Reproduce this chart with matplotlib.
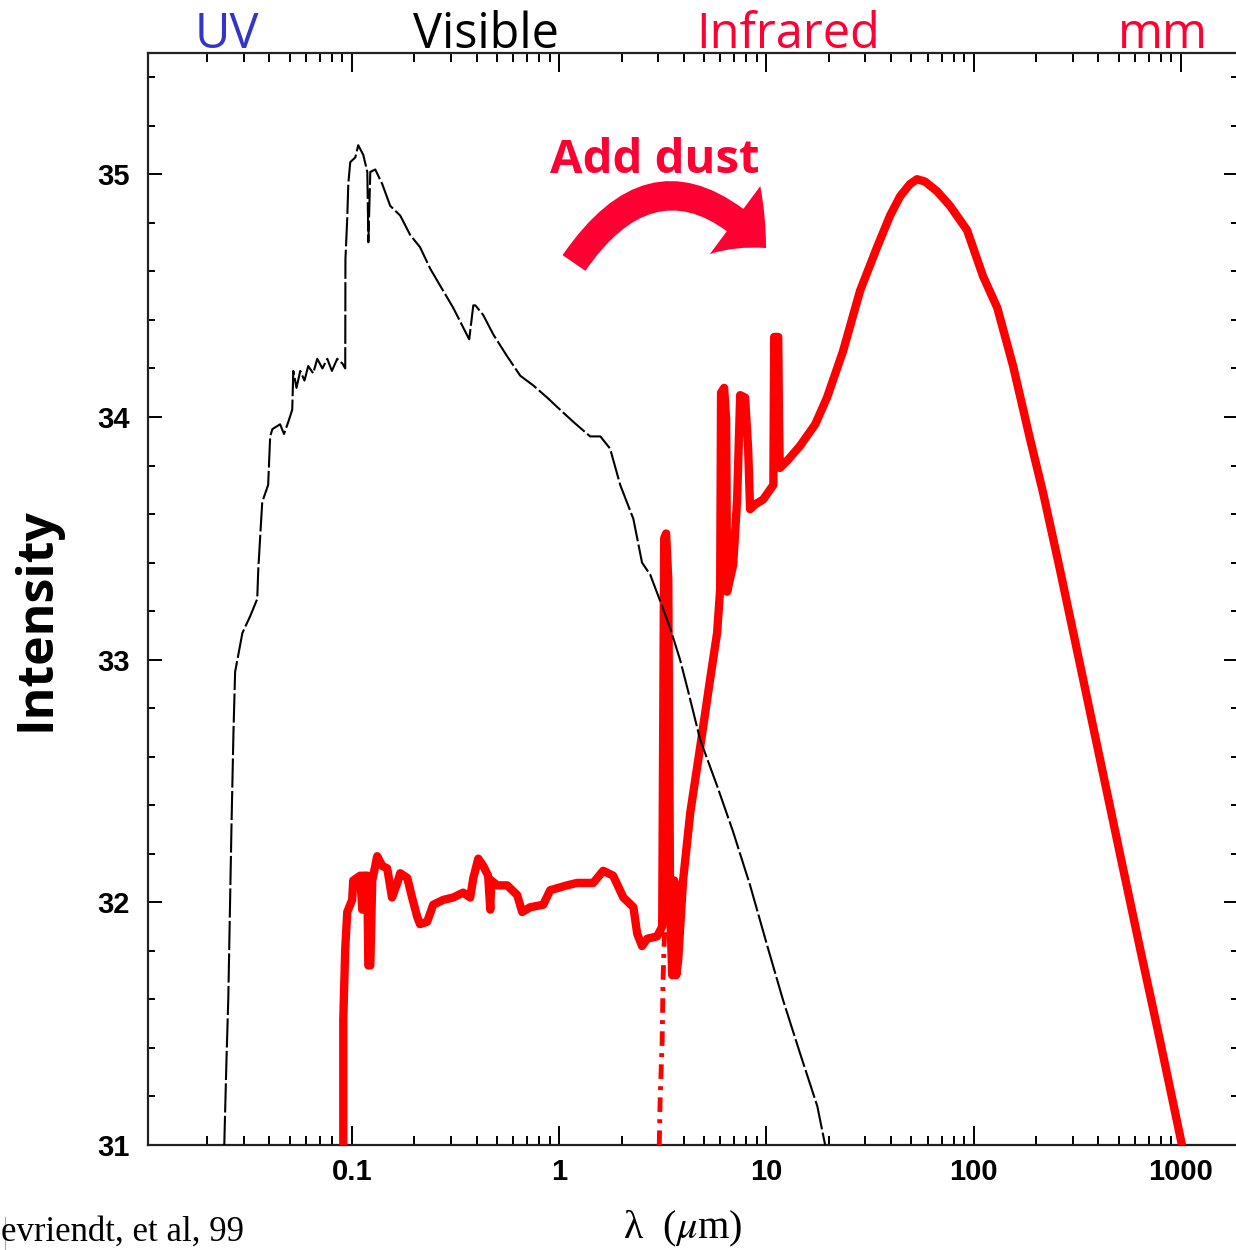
import matplotlib
matplotlib.use("Agg")
import matplotlib.pyplot as plt
from matplotlib.ticker import LogLocator, MultipleLocator, NullFormatter, FixedLocator, FixedFormatter
from matplotlib.patches import FancyArrowPatch
from matplotlib.lines import Line2D

# Starburst SED without dust: wavelength (micron), log intensity
star_wl = [0.0242, 0.0248, 0.0253, 0.0262, 0.0268, 0.0273, 0.0296, 0.0323, 0.0349, 0.0353,
           0.0369, 0.0394, 0.0403, 0.0413, 0.0450, 0.0470, 0.0493, 0.0515, 0.0521, 0.0540,
           0.0563, 0.0590, 0.0615, 0.0650, 0.0680, 0.0720, 0.0760, 0.0800, 0.0849, 0.0900,
           0.0928, 0.0930, 0.0949, 0.0960, 0.0981, 0.1038, 0.1072, 0.1134, 0.1186, 0.1200,
           0.1226, 0.1295, 0.140, 0.153, 0.171, 0.191, 0.213, 0.239, 0.267, 0.308,
           0.368, 0.385, 0.394, 0.430, 0.481, 0.561, 0.649, 0.750, 0.875, 1.01,
           1.17, 1.41, 1.58, 1.76, 1.97, 2.28, 2.51, 2.75, 3.14, 3.43,
           3.83, 4.19, 4.79, 5.78, 6.91, 8.34, 10.1, 12.0, 14.5, 17.6, 19.2]
star_int = [31.00, 31.35, 31.60, 32.30, 32.70, 32.95, 33.11, 33.18, 33.25, 33.37,
            33.65, 33.72, 33.92, 33.95, 33.97, 33.93, 33.98, 34.03, 34.19, 34.12,
            34.19, 34.15, 34.21, 34.18, 34.24, 34.20, 34.24, 34.19, 34.24, 34.22,
            34.20, 34.65, 34.82, 34.96, 35.05, 35.07, 35.12, 35.08, 35.01, 34.72,
            35.01, 35.02, 34.96, 34.87, 34.83, 34.75, 34.70, 34.61, 34.54, 34.45,
            34.32, 34.46, 34.46, 34.42, 34.34, 34.25, 34.17, 34.13, 34.08, 34.03,
            33.98, 33.92, 33.92, 33.87, 33.72, 33.58, 33.40, 33.35, 33.22, 33.13,
            33.00, 32.87, 32.67, 32.48, 32.29, 32.07, 31.82, 31.60, 31.38, 31.16, 31.00]

# Same starburst with dust: absorbed UV/optical, re-emitted in the infrared
dust_wl = [0.0908, 0.0908, 0.0928, 0.0949, 0.1002, 0.1014, 0.1096, 0.1121, 0.1134, 0.1186,
           0.1199, 0.1226, 0.1253, 0.1324, 0.140, 0.148, 0.156, 0.1655, 0.171, 0.185,
           0.195, 0.2065, 0.213, 0.2306, 0.2466, 0.2755, 0.308, 0.344, 0.372, 0.385,
           0.407, 0.430, 0.454, 0.465, 0.470, 0.502, 0.561, 0.627, 0.663, 0.725,
           0.837, 0.905, 1.09, 1.22, 1.46, 1.63, 1.82, 2.04, 2.28, 2.38,
           2.51, 2.66, 2.97, 3.14, 3.21, 3.28, 3.36, 3.43, 3.51, 3.59,
           3.67, 3.75, 3.96, 4.29, 4.79, 5.35, 5.78, 5.98, 6.04, 6.25,
           6.39, 6.46, 6.91, 7.22, 7.47, 7.89, 8.16, 8.34, 8.82, 9.64,
           10.8, 10.9, 11.4, 11.5, 11.6, 12.6, 14.5, 17.2, 19.6, 23.4,
           28.3, 34.2, 39.5, 44.2, 49.3, 53.3, 58.3, 66.6, 76.9, 92.9,
           111, 130, 155, 187, 216, 261, 326, 407, 508, 635, 793, 1012]
dust_int = [31.00, 31.52, 31.81, 31.96, 32.01, 32.09, 32.11, 31.97, 32.11, 32.11,
            31.74, 31.74, 32.09, 32.19, 32.15, 32.14, 32.02, 32.08, 32.12, 32.10,
            32.02, 31.94, 31.91, 31.92, 31.99, 32.01, 32.02, 32.04, 32.02, 32.10,
            32.18, 32.15, 32.11, 31.97, 32.09, 32.07, 32.07, 32.03, 31.96, 31.98,
            31.99, 32.05, 32.07, 32.08, 32.08, 32.13, 32.11, 32.02, 31.98, 31.87,
            31.82, 31.85, 31.86, 31.90, 33.50, 33.52, 33.33, 31.98, 31.70, 32.09,
            31.70, 31.76, 32.09, 32.37, 32.64, 32.92, 33.11, 33.29, 34.10, 34.12,
            33.99, 33.28, 33.39, 33.66, 34.09, 34.08, 33.87, 33.62, 33.64, 33.66,
            33.72, 34.33, 34.33, 33.99, 33.79, 33.82, 33.88, 33.97, 34.08, 34.27,
            34.52, 34.70, 34.83, 34.91, 34.96, 34.98, 34.97, 34.93, 34.87, 34.77,
            34.58, 34.45, 34.21, 33.91, 33.69, 33.37, 32.98, 32.59, 32.20, 31.81, 31.43, 31.00]

# Attenuated near-IR continuum
ext_wl = [3.04, 3.07, 3.14, 3.17, 3.21, 3.28, 3.36]
ext_int = [31.00, 31.19, 31.43, 31.68, 31.83, 32.01, 32.09]

x_ticks = [0.1, 1, 10, 100, 1000]
x_tick_labels = ['0.1', '1', '10', '100', '1000']
y_ticks = [31, 32, 33, 34, 35]

band_names = ['UV', 'Visible', 'Infrared', 'mm']
band_wl = [0.0249, 0.444, 12.7, 820]
band_colors = ['#3434c8', 'black', '#ff0033', '#ff0033']

W, H = 1236, 1250
fig = plt.figure(figsize=(W / 100, H / 100), dpi=100)
ax = fig.add_axes([148 / W, 105 / H, 1090 / W, 1092 / H])

ax.plot(star_wl, star_int, color='black', lw=1.5, ls=(0, (14, 1.6)), zorder=4)
ax.plot(dust_wl, dust_int, color='#ff0000', lw=6, solid_joinstyle='round', zorder=3)
ax.plot(ext_wl, ext_int, color='#ff0000', lw=3.5, ls=(0, (3, 1.5, 0.8, 1.5)), zorder=3)

ax.set_xscale('log')
ax.set_xlim(0.01037, 1886)
ax.set_ylim(31, 35.5)

ax.xaxis.set_major_locator(FixedLocator(x_ticks))
ax.xaxis.set_major_formatter(FixedFormatter(x_tick_labels))
ax.xaxis.set_minor_locator(LogLocator(base=10, subs=range(2, 10), numticks=20))
ax.xaxis.set_minor_formatter(NullFormatter())
ax.yaxis.set_major_locator(FixedLocator(y_ticks))
ax.yaxis.set_minor_locator(MultipleLocator(0.2))

tick_font = dict(family='Liberation Sans', weight='bold', size=21)
ax.tick_params(axis='x', which='major', direction='in', length=13.5, width=1.4,
               top=True, bottom=True, pad=9)
ax.tick_params(axis='x', which='minor', direction='in', length=6.5, width=1.4,
               top=True, bottom=True)
ax.tick_params(axis='y', which='major', direction='in', length=10, width=1.4,
               left=True, right=True, pad=13)
ax.tick_params(axis='y', which='minor', direction='in', length=5, width=1.4,
               left=True, right=True)
for lab in ax.get_xticklabels() + ax.get_yticklabels():
    lab.set_fontproperties(tick_font)
for sp in ax.spines.values():
    sp.set_linewidth(1.6)
    sp.set_color('#222222')

# wavelength band names above the frame
for name, wl, col in zip(band_names, band_wl, band_colors):
    ax.text(wl, 1.0046, name, transform=ax.get_xaxis_transform(), ha='center',
            va='baseline', color=col, family='Open Sans', fontsize=35)

ax.text(-0.102, 0.482, 'Intensity', transform=ax.transAxes, rotation=90,
        ha='center', va='center', family='Open Sans', weight='bold', fontsize=36)
fig.text(683 / W, 1 - 1238 / H, r'λ  ($\mu$m)', ha='center', va='baseline',
         family='Liberation Serif', fontsize=29, math_fontfamily='stix')

fig.text(655 / W, 1 - 173 / H, 'Add dust', ha='center', va='baseline',
         color='#ff0033', family='Open Sans', weight='bold', fontsize=34)
arrow = FancyArrowPatch((574 / W, 1 - 263 / H), (766 / W, 1 - 248 / H),
                        transform=fig.transFigure, connectionstyle='arc3,rad=-0.62',
                        arrowstyle='simple,head_length=30,head_width=61,tail_width=20',
                        mutation_scale=1, color='#ff0033', shrinkA=0, shrinkB=0, lw=0)
fig.add_artist(arrow)

fig.text(1 / W, 9 / H, 'evriendt, et al, 99', ha='left', va='baseline',
         family='Liberation Serif', fontsize=25)
fig.add_artist(Line2D([4.5 / W, 4.5 / W], [0, 33 / H], transform=fig.transFigure,
                      color='#aaaaaa', lw=0.8))

fig.savefig('out.png', dpi=100)
